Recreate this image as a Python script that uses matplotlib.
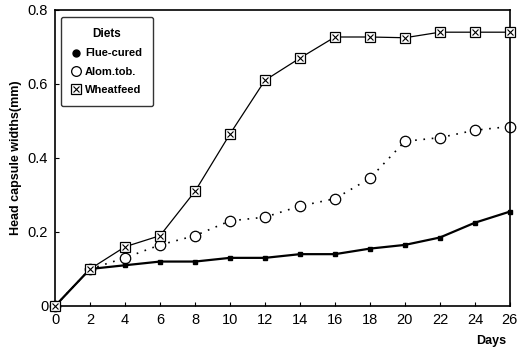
import matplotlib
matplotlib.use("Agg")
import matplotlib.pyplot as plt
from matplotlib.lines import Line2D

plt.rcParams['font.family'] = ['Liberation Sans', 'DejaVu Sans']

days = [0, 2, 4, 6, 8, 10, 12, 14, 16, 18, 20, 22, 24, 26]
flue_cured = [0, 0.10, 0.11, 0.12, 0.12, 0.13, 0.13, 0.14, 0.14, 0.155, 0.165, 0.185, 0.225, 0.255]
alom_tob = [0, 0.10, 0.13, 0.165, 0.19, 0.23, 0.24, 0.27, 0.29, 0.345, 0.445, 0.455, 0.475, 0.485]
wheatfeed = [0, 0.10, 0.16, 0.19, 0.31, 0.465, 0.61, 0.67, 0.727, 0.727, 0.725, 0.74, 0.74, 0.74]

fig = plt.figure(figsize=(5.3, 3.57), dpi=100)
ax = fig.add_axes([0.104, 0.143, 0.858, 0.829])

ax.plot(days, flue_cured, color='black', lw=1.6, marker='s', ms=3.5,
        mfc='black', mec='black', zorder=3, clip_on=False)
ax.plot(days, alom_tob, color='black', lw=1.2, ls=(0, (1, 4)), marker='o', ms=7.5,
        mfc='white', mec='black', mew=0.9, zorder=2, clip_on=False)
ax.plot(days, wheatfeed, color='black', lw=0.9, marker='s', ms=6.5,
        mfc='white', mec='black', mew=0.9, zorder=4, clip_on=False)
# cross inside the wheatfeed squares
ax.plot(days, wheatfeed, ls='none', marker='x', ms=4.5, mec='black', mew=0.8,
        zorder=5, clip_on=False)

ax.set_xlim(0, 26)
ax.set_ylim(0, 0.8)
ax.set_xticks(range(0, 27, 2))
ax.set_yticks([0, 0.2, 0.4, 0.6, 0.8])
ax.set_yticklabels(['0', '0.2', '0.4', '0.6', '0.8'])
ax.tick_params(direction='in', length=3, labelsize=10.5, pad=5)
for s in ax.spines.values():
    s.set_linewidth(1.2)

ax.set_ylabel('Head capsule widths(mm)', fontsize=9, fontweight='bold', labelpad=4)
fig.text(0.955, 0.045, 'Days', fontsize=9, fontweight='bold', ha='right', va='center')

handles = [
    Line2D([], [], ls='none', marker='o', ms=5, mfc='black', mec='black'),
    Line2D([], [], ls='none', marker='o', ms=7, mfc='white', mec='black', mew=0.9),
    (Line2D([], [], ls='none', marker='s', ms=6.5, mfc='white', mec='black', mew=0.9),
     Line2D([], [], ls='none', marker='x', ms=4.5, mec='black', mew=0.8)),
]
leg = ax.legend(handles, ['Flue-cured', 'Alom.tob.', 'Wheatfeed'], title='Diets',
                loc='upper left', fontsize=8, frameon=True,
                fancybox=True, edgecolor='black', borderpad=1.0,
                handlelength=0.8, handletextpad=0.4, labelspacing=0.75,
                bbox_to_anchor=(0.0, 0.995))
leg.get_title().set_fontweight('bold')
leg.get_title().set_fontsize(8.5)
leg.get_frame().set_linewidth(1.0)
for t in leg.get_texts():
    t.set_fontweight('bold')

fig.savefig('out.png', dpi=100)
